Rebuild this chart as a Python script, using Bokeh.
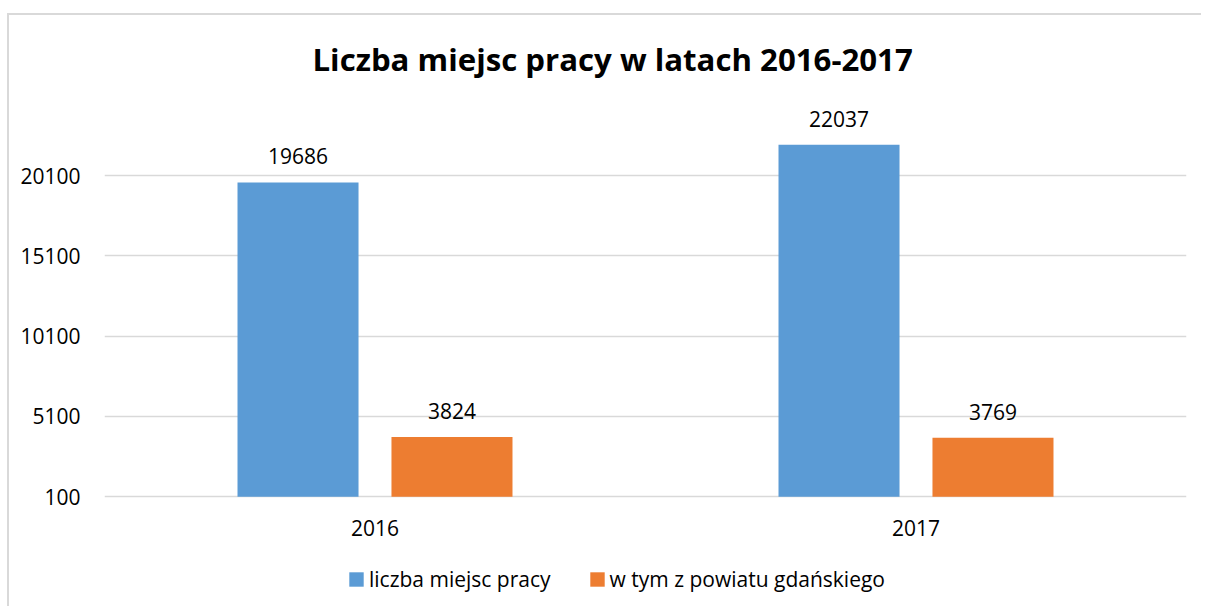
from bokeh.plotting import figure
from bokeh.models import (ColumnDataSource, FactorRange, Range1d, FixedTicker,
                          LabelSet, Legend, LegendItem)
from bokeh.transform import dodge
from bokeh.core.properties import value
from bokeh.embed import file_html
from bokeh.resources import INLINE

# ---- data ----
years = ["2016", "2017"]
liczba_miejsc_pracy = [19686, 22037]
z_powiatu_gdanskiego = [3824, 3769]
y_ticks = [100, 5100, 10100, 15100, 20100]
series_names = ["liczba miejsc pracy", "w tym z powiatu gdańskiego"]
series_colors = ["#5B9BD5", "#ED7D31"]
title_text = "Liczba miejsc pracy w latach 2016-2017"

FONT = "Open Sans"
TXT = "#000000"
GRID = "#D9D9D9"
baseline = y_ticks[0]          # value axis minimum (bars start here)

src = ColumnDataSource(dict(
    year=years,
    base=[baseline] * len(years),
    a=liczba_miejsc_pracy,
    b=z_powiatu_gdanskiego,
    a_lab=[str(v) for v in liczba_miejsc_pracy],
    b_lab=[str(v) for v in z_powiatu_gdanskiego],
))

p = figure(width=1194, height=593,
           x_range=FactorRange(factors=years, range_padding=0),
           y_range=Range1d(-6676, 25100),
           x_axis_location=None,
           output_backend="svg", toolbar_location=None,
           min_border_left=95, min_border_right=17,
           min_border_top=80, min_border_bottom=3)
p.margin = (13, 0, 0, 7)
p.styles = {"border-top": "2px solid #D9D9D9", "border-left": "2px solid #D9D9D9"}
p.outline_line_color = None
p.background_fill_color = "white"
p.border_fill_color = "white"

BAR_W = 0.2237
OFF = 0.1423
r1 = p.vbar(x=dodge("year", -OFF, range=p.x_range), top="a", bottom="base",
            width=BAR_W, source=src, fill_color=series_colors[0], line_color=None)
r2 = p.vbar(x=dodge("year", OFF, range=p.x_range), top="b", bottom="base",
            width=BAR_W, source=src, fill_color=series_colors[1], line_color=None)

# data labels
for col, off in (("a", -OFF), ("b", OFF)):
    lbl = LabelSet(x=dodge("year", off, range=p.x_range), y=col, text=col + "_lab",
                   source=src, text_align="center", text_baseline="alphabetic",
                   y_offset=18, text_font=value(FONT), text_font_size=value("21px"),
                   text_color=TXT)
    p.add_layout(lbl)

# category (x axis) labels under the baseline
cat = LabelSet(x="year", y="base", text="year", source=src,
               text_align="center", text_baseline="alphabetic", y_offset=-39,
               text_font=value(FONT), text_font_size=value("21px"), text_color=TXT)
p.add_layout(cat)

# grid
p.xgrid.grid_line_color = None
p.ygrid.ticker = FixedTicker(ticks=y_ticks)
p.ygrid.grid_line_color = GRID
p.ygrid.grid_line_width = 1.5

# y axis
p.yaxis.ticker = FixedTicker(ticks=y_ticks)
p.yaxis.axis_line_color = None
p.yaxis.major_tick_line_color = None
p.yaxis.minor_tick_line_color = None
p.yaxis.major_tick_out = 0
p.yaxis.major_tick_in = 0
p.yaxis.major_label_standoff = 24
p.yaxis.major_label_text_font = FONT
p.yaxis.major_label_text_font_size = "21px"
p.yaxis.major_label_text_color = TXT

# title
p.title.text = title_text
p.title.align = "left"
p.title.offset = 208
p.title.standoff = 31
p.title.text_font = FONT
p.title.text_font_size = "31.2px"
p.title.text_font_style = "bold"
p.title.text_color = TXT

legend = Legend(items=[LegendItem(label=series_names[0], renderers=[r1]),
                       LegendItem(label=series_names[1], renderers=[r2])],
                orientation="horizontal", location=(243, 12),
                glyph_width=18, glyph_height=18, label_standoff=4, spacing=37,
                padding=0, margin=0, border_line_color=None,
                background_fill_alpha=0,
                label_text_font=FONT, label_text_font_size="21px",
                label_text_color=TXT)
p.add_layout(legend)

open("out.html", "w").write(file_html(p, INLINE))
